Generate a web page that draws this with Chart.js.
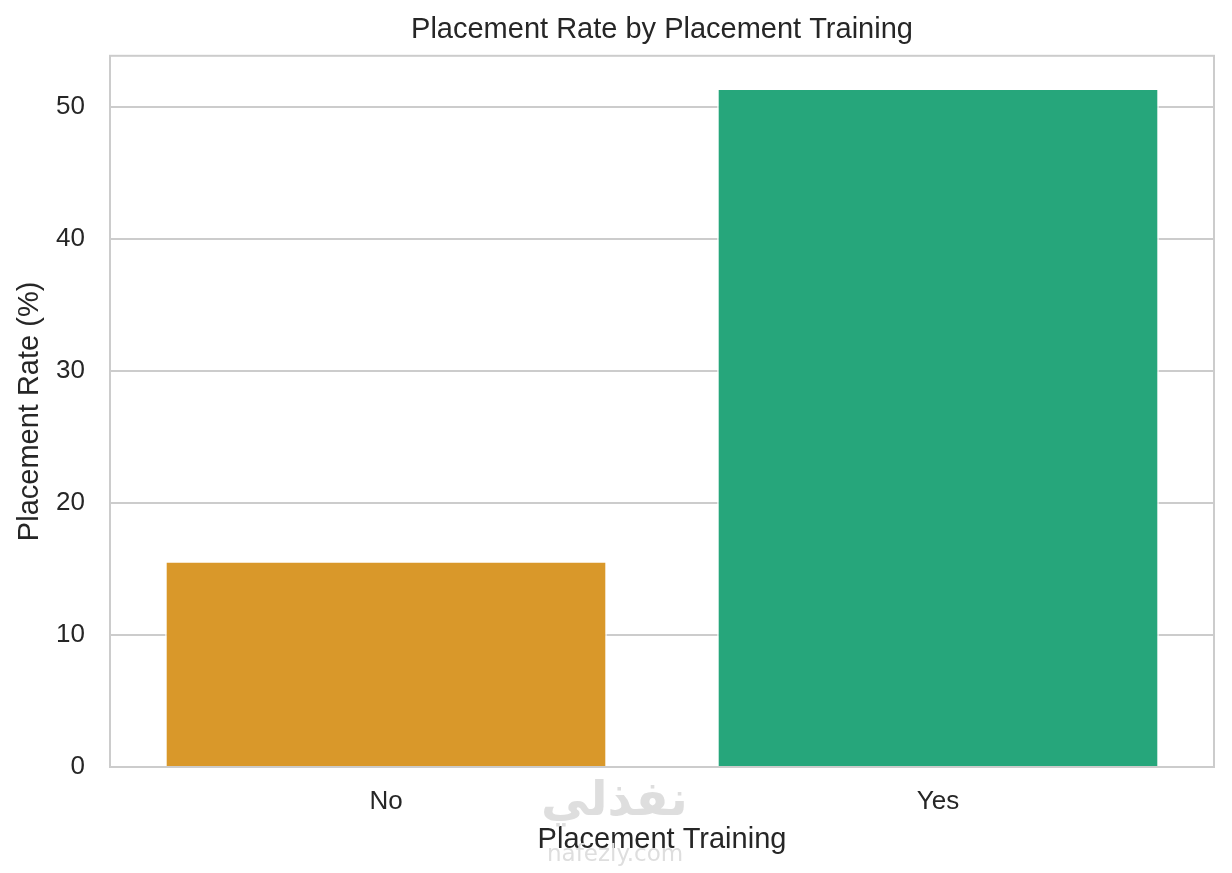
<!DOCTYPE html>
<html>
<head>
<meta charset="utf-8">
<script src="https://cdn.jsdelivr.net/npm/chart.js@4.4.1/dist/chart.umd.min.js"></script>
<style>
  html, body { margin: 0; padding: 0; background: #fff; }
  #wrap { position: relative; width: 1232px; height: 873px; }
  .wm { position: absolute; color: #dedede; font-family: "DejaVu Sans", sans-serif; pointer-events: none; }
  .wm-ar { left: 541px; top: 770px; font-size: 48px; font-weight: bold; }
  .wm-en { left: 547px; top: 840px; font-size: 23px; }
</style>
</head>
<body>
<div id="wrap">
  <canvas id="chart"></canvas>
  <div class="wm wm-ar" dir="rtl">نفذلي</div>
  <div class="wm wm-en">nafezly.com</div>
</div>
<script>
// data
const categories = ['No', 'Yes'];
const placementRates = [15.5, 51.3];
const barColors = ['#D9982A', '#26A67B'];
const yTickValues = [0, 10, 20, 30, 40, 50];
const yMax = 53.9;

const textColor = '#262626';
const gridColor = '#cccccc';
const fontFamily = '"Liberation Sans", Arial, sans-serif';

// seaborn-style frame round the whole plot area
const framePlugin = {
  id: 'frame',
  afterDatasetsDraw(chart) {
    const { ctx, chartArea: a } = chart;
    ctx.save();
    ctx.strokeStyle = gridColor;
    ctx.lineWidth = 2;
    ctx.strokeRect(a.left, a.top, a.right - a.left, a.bottom - a.top);
    ctx.restore();
  }
};

const ctx = document.getElementById('chart').getContext('2d');
new Chart(ctx, {
  type: 'bar',
  data: {
    labels: categories,
    datasets: [{
      label: 'Placement Rate (%)',
      data: placementRates,
      backgroundColor: barColors,
      borderColor: '#ffffff',
      borderWidth: { left: 1.5, right: 1.5, top: 0, bottom: 0 },
      borderSkipped: 'start',
      barPercentage: 0.8,
      categoryPercentage: 1.0
    }]
  },
  options: {
    responsive: true,
    maintainAspectRatio: false,
    animation: false,
    layout: { padding: { left: 0, right: 18, top: 0, bottom: 0 } },
    plugins: {
      legend: { display: false },
      tooltip: { enabled: false },
      title: {
        display: true,
        fullSize: false,
        text: 'Placement Rate by Placement Training',
        color: textColor,
        font: { family: fontFamily, size: 29, weight: 'normal', lineHeight: 1.2 },
        padding: { top: 13, bottom: 8 }
      }
    },
    scales: {
      x: {
        grid: { display: false, drawTicks: false },
        border: { display: false },
        ticks: {
          color: textColor,
          font: { family: fontFamily, size: 26 },
          padding: 19
        },
        title: {
          display: true,
          text: 'Placement Training',
          color: textColor,
          font: { family: fontFamily, size: 29, lineHeight: 1.2 },
          padding: { top: 0, bottom: 16 }
        },
        afterFit(scale) { scale.height = 106; }
      },
      y: {
        min: 0,
        max: yMax,
        grid: { color: gridColor, lineWidth: 2, drawTicks: false },
        border: { display: false },
        ticks: {
          stepSize: 10,
          color: textColor,
          font: { family: fontFamily, size: 26 },
          padding: 25
        },
        afterBuildTicks(scale) {
          scale.ticks = yTickValues.map(v => ({ value: v }));
        },
        title: {
          display: true,
          text: 'Placement Rate (%)',
          color: textColor,
          font: { family: fontFamily, size: 29, lineHeight: 1.2 },
          padding: { top: 13, bottom: 0 }
        },
        afterFit(scale) { scale.width = 110; }
      }
    }
  },
  plugins: [framePlugin]
});
</script>
</body>
</html>
